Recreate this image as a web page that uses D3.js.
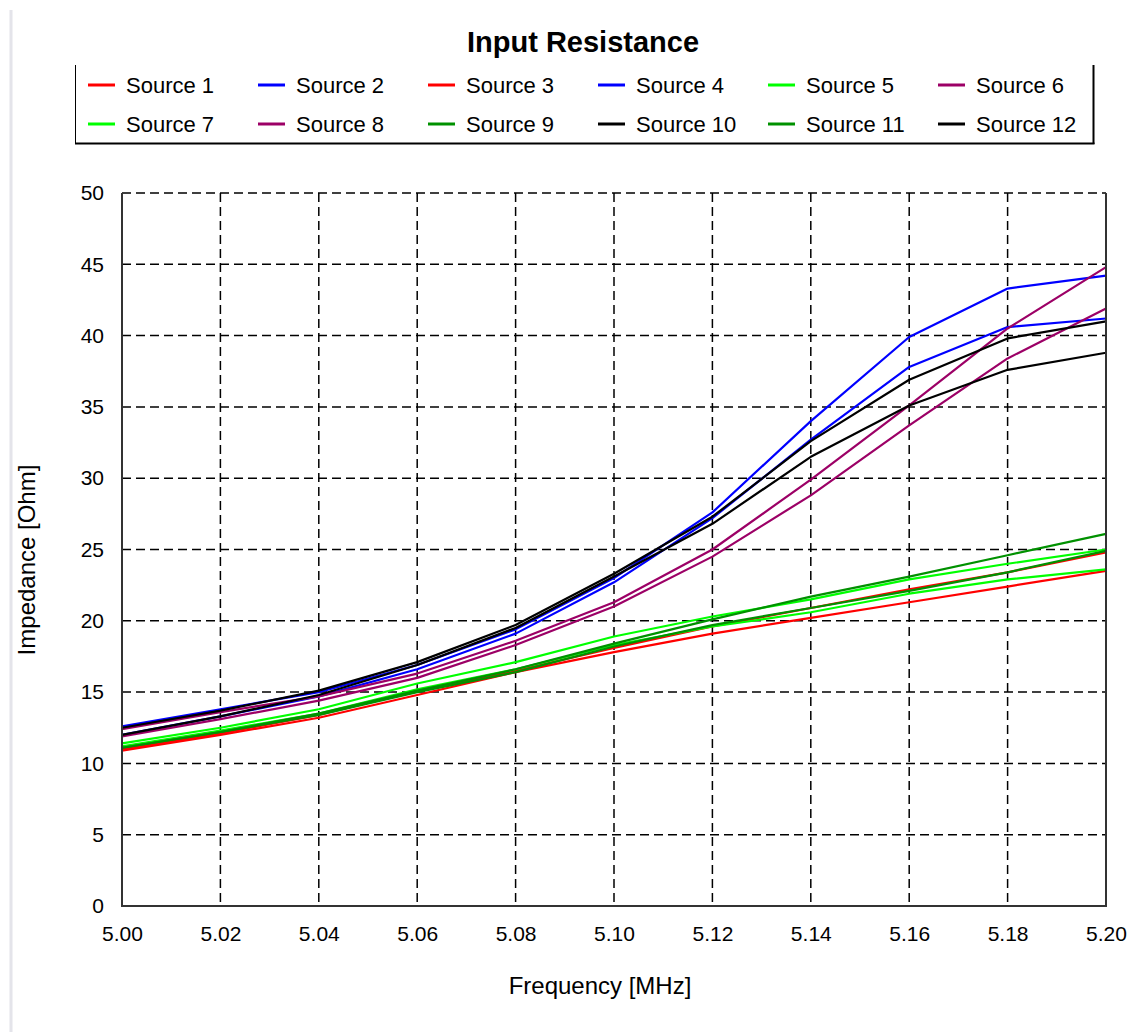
<!DOCTYPE html>
<html>
<head>
<meta charset="utf-8">
<script src="https://cdn.jsdelivr.net/npm/d3@7"></script>
<style>
  html, body { margin: 0; padding: 0; background: #ffffff; }
  svg { display: block; font-family: "Liberation Sans", Arial, sans-serif; }
</style>
</head>
<body>
<svg id="chart" width="1130" height="1032"></svg>
<script>
// Frequency sweep (MHz)
const frequencies = [5.00, 5.02, 5.04, 5.06, 5.08, 5.10, 5.12, 5.14, 5.16, 5.18, 5.20];

// Input resistance per source (Ohm)
const source1  = [11.0, 12.1, 13.4, 15.1, 16.5, 18.1, 19.6, 20.9, 22.2, 23.4, 24.8];
const source2  = [12.6, 13.8, 15.0, 16.9, 19.4, 23.0, 27.6, 34.0, 39.9, 43.3, 44.2];
const source3  = [10.9, 12.0, 13.2, 14.8, 16.4, 17.8, 19.1, 20.2, 21.3, 22.4, 23.5];
const source4  = [12.0, 13.3, 14.7, 16.6, 19.1, 22.7, 27.2, 32.7, 37.8, 40.6, 41.2];
const source5  = [11.4, 12.5, 13.8, 15.6, 17.1, 18.9, 20.3, 21.5, 22.9, 24.0, 25.0];
const source6  = [12.4, 13.6, 14.7, 16.3, 18.6, 21.3, 25.0, 29.9, 35.1, 40.5, 44.8];
const source7  = [11.2, 12.3, 13.5, 15.2, 16.6, 18.3, 19.6, 20.6, 21.9, 22.9, 23.6];
const source8  = [11.9, 13.1, 14.4, 16.0, 18.3, 21.0, 24.5, 28.8, 33.7, 38.4, 41.9];
const source9  = [11.1, 12.2, 13.5, 15.1, 16.6, 18.4, 20.1, 21.7, 23.1, 24.6, 26.1];
const source10 = [12.5, 13.7, 15.1, 17.1, 19.7, 23.3, 27.3, 32.6, 36.9, 39.8, 41.0];
const source11 = [11.1, 12.2, 13.4, 15.0, 16.4, 18.2, 19.7, 20.9, 22.1, 23.4, 24.9];
const source12 = [12.0, 13.3, 14.8, 16.9, 19.5, 23.1, 26.8, 31.5, 35.1, 37.6, 38.8];

const seriesNames  = ["Source 1", "Source 2", "Source 3", "Source 4", "Source 5", "Source 6",
                      "Source 7", "Source 8", "Source 9", "Source 10", "Source 11", "Source 12"];
const seriesValues = [source1, source2, source3, source4, source5, source6,
                      source7, source8, source9, source10, source11, source12];
const seriesColors = ["#ff0000", "#0000ff", "#ff0000", "#0000ff", "#00ff00", "#9c0066",
                      "#00ff00", "#9c0066", "#009100", "#000000", "#009100", "#000000"];

const xTicks = [5.00, 5.02, 5.04, 5.06, 5.08, 5.10, 5.12, 5.14, 5.16, 5.18, 5.20];
const yTicks = [0, 5, 10, 15, 20, 25, 30, 35, 40, 45, 50];

const svg = d3.select("#chart");

// Plot area
const plotLeft = 122, plotRight = 1106, plotTop = 193, plotBottom = 906;
const x = d3.scaleLinear().domain([5.0, 5.2]).range([plotLeft, plotRight]);
const y = d3.scaleLinear().domain([0, 50]).range([plotBottom, plotTop]);

// Thin light rule along the left page edge
svg.append("line")
  .attr("x1", 11).attr("x2", 11).attr("y1", 10).attr("y2", 1032)
  .attr("stroke", "#e4e4ea").attr("stroke-width", 3);

// Title
svg.append("text")
  .attr("x", 583).attr("y", 52)
  .attr("text-anchor", "middle")
  .attr("font-size", 29).attr("font-weight", "bold")
  .attr("fill", "#000")
  .text("Input Resistance");

// Legend frame (sides and shadowed bottom)
const lg = svg.append("g");
lg.append("line").attr("x1", 75.5).attr("x2", 75.5).attr("y1", 65).attr("y2", 143)
  .attr("stroke", "#000").attr("stroke-width", 1);
lg.append("line").attr("x1", 1093.5).attr("x2", 1093.5).attr("y1", 65).attr("y2", 144)
  .attr("stroke", "#000").attr("stroke-width", 2);
lg.append("line").attr("x1", 75).attr("x2", 1094.5).attr("y1", 143.5).attr("y2", 143.5)
  .attr("stroke", "#000").attr("stroke-width", 2);

const legendCols = 6;
seriesNames.forEach((name, i) => {
  const col = i % legendCols, row = Math.floor(i / legendCols);
  const gx = 88 + col * 170, gy = 85 + row * 39;
  lg.append("line")
    .attr("x1", gx).attr("x2", gx + 27).attr("y1", gy).attr("y2", gy)
    .attr("stroke", seriesColors[i]).attr("stroke-width", 3);
  lg.append("text")
    .attr("x", gx + 38).attr("y", gy + 2)
    .attr("dominant-baseline", "middle")
    .attr("font-size", 22).attr("fill", "#000")
    .text(name);
});

// Dashed grid
const grid = svg.append("g").attr("stroke", "#000").attr("stroke-width", 1.5)
  .attr("stroke-dasharray", "9,5");
grid.selectAll(".gy").data(yTicks.filter(d => d > 0)).join("line")
  .attr("x1", plotLeft).attr("x2", plotRight)
  .attr("y1", d => y(d)).attr("y2", d => y(d));
grid.selectAll(".gx").data(xTicks.filter(d => d > 5.0 && d < 5.2)).join("line")
  .attr("x1", d => x(d)).attr("x2", d => x(d))
  .attr("y1", plotTop).attr("y2", plotBottom);

// Series lines
const line = d3.line().x((d, i) => x(frequencies[i])).y(d => y(d));
svg.append("g").selectAll("path").data(seriesValues).join("path")
  .attr("d", d => line(d))
  .attr("fill", "none")
  .attr("stroke", (d, i) => seriesColors[i])
  .attr("stroke-width", 2.2)
  .attr("stroke-linejoin", "round");

// Frame: left, bottom and right edges
const frame = svg.append("g").attr("stroke", "#333").attr("stroke-width", 2).attr("fill", "none");
frame.append("path").attr("d", `M${plotLeft},${plotTop}V${plotBottom}H${plotRight}V${plotTop}`);

// Axes (labels only; grid carries the tick positions)
const xAxis = svg.append("g").attr("transform", `translate(0,${plotBottom})`)
  .call(d3.axisBottom(x).tickValues(xTicks).tickFormat(d3.format(".2f")).tickSize(0).tickPadding(20));
const yAxis = svg.append("g").attr("transform", `translate(${plotLeft},0)`)
  .call(d3.axisLeft(y).tickValues(yTicks).tickFormat(d3.format("d")).tickSize(0).tickPadding(18));
[xAxis, yAxis].forEach(a => {
  a.select(".domain").remove();
  a.selectAll("text").attr("font-size", 21).attr("fill", "#000")
    .attr("font-family", "'Liberation Sans', Arial, sans-serif");
});

// Axis titles
svg.append("text")
  .attr("x", 600).attr("y", 994)
  .attr("text-anchor", "middle")
  .attr("font-size", 24).attr("fill", "#000")
  .text("Frequency [MHz]");
svg.append("text")
  .attr("transform", "translate(35,560) rotate(-90)")
  .attr("text-anchor", "middle")
  .attr("font-size", 24).attr("fill", "#000")
  .text("Impedance [Ohm]");
</script>
</body>
</html>
